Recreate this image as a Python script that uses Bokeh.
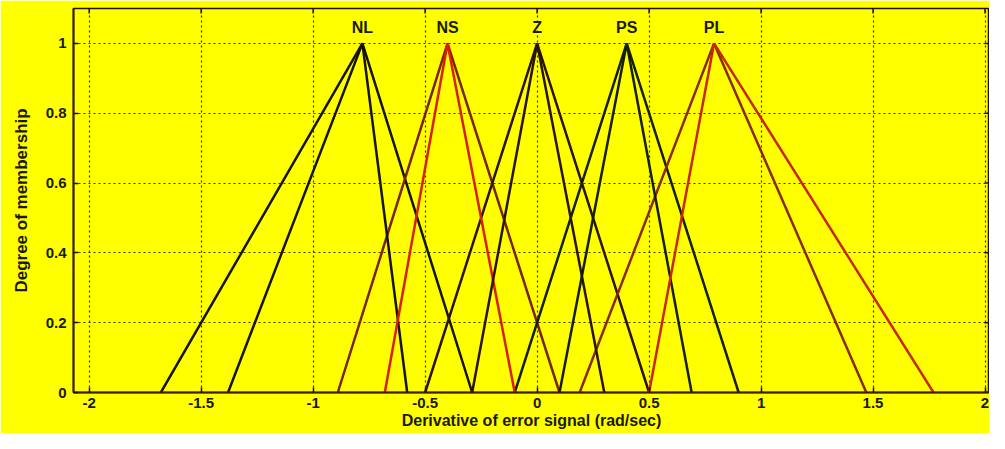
from bokeh.plotting import figure
from bokeh.models import ColumnDataSource, Range1d, FixedTicker
from bokeh.core.properties import value
from bokeh.embed import file_html
from bokeh.resources import INLINE

# ---- data ----
mf_labels = ["NL", "NS", "Z", "PS", "PL"]
peaks = [-0.78, -0.40, 0.0, 0.40, 0.79]
setA_left = [-1.68, -0.89, -0.50, -0.10, 0.19]
setA_right = [-0.29, 0.10, 0.50, 0.90, 1.47]
setB_left = [-1.38, -0.68, -0.29, 0.10, 0.50]
setB_right = [-0.58, -0.10, 0.30, 0.69, 1.77]
setA_colors = ["#141400", "#7a2400", "#2a1400", "#142000", "#8a2a00"]
setB_colors = ["#141400", "#d82000", "#2a1400", "#142000", "#c82800"]
x_ticks = [-2, -1.5, -1, -0.5, 0, 0.5, 1, 1.5, 2]
y_ticks = [0, 0.2, 0.4, 0.6, 0.8, 1]

YEL = "#ffff00"
FONT = "Liberation Sans"
TXT = "#1a1a00"
X0, X1, Y0, Y1 = -2.07, 2.02, 0.0, 1.1

p = figure(width=989, height=433, output_backend="svg", toolbar_location=None,
           x_range=Range1d(X0, X1), y_range=Range1d(Y0, Y1),
           min_border_left=73, min_border_right=0, min_border_top=8, min_border_bottom=41)
p.background_fill_color = YEL
p.border_fill_color = YEL
p.outline_line_color = "#201000"
p.outline_line_width = 1.5

xs, ys, cols = [], [], []
for l, pk, r, c in zip(setA_left, peaks, setA_right, setA_colors):
    xs.append([l, pk, r]); ys.append([0, 1, 0]); cols.append(c)
for l, pk, r, c in zip(setB_left, peaks, setB_right, setB_colors):
    xs.append([l, pk, r]); ys.append([0, 1, 0]); cols.append(c)
src = ColumnDataSource(dict(xs=xs, ys=ys, color=cols))
p.multi_line(xs="xs", ys="ys", line_color="color", line_width=2.5, source=src)

p.text(x=peaks, y=[1.045] * len(peaks), text=mf_labels, text_align="center",
       text_baseline="middle", text_font=value(FONT), text_font_style="bold",
       text_font_size="16px", text_color=TXT)

# inward tick marks on the top and right frame edges (MATLAB box style)
tick_len_y = 5 * (Y1 - Y0) / 384.0
tick_len_x = 5 * (X1 - X0) / 916.0
p.segment(x0=x_ticks, y0=[Y1] * len(x_ticks), x1=x_ticks, y1=[Y1 - tick_len_y] * len(x_ticks),
          line_color="#201000", line_width=1.5)
p.segment(x0=[X1] * len(y_ticks), y0=y_ticks, x1=[X1 - tick_len_x] * len(y_ticks), y1=y_ticks,
          line_color="#201000", line_width=1.5)

xa = p.below[0]
ya = p.left[0]
for ax in (xa, ya):
    ax.major_tick_in = 5
    ax.major_tick_out = 0
    ax.minor_tick_in = 0
    ax.minor_tick_out = 0
    ax.axis_line_color = "#3a2000"
    ax.axis_line_width = 2
    ax.major_tick_line_color = "#201000"
    ax.major_tick_line_width = 1.5
    ax.major_label_text_font = FONT
    ax.major_label_text_font_style = "bold"
    ax.major_label_text_font_size = "15px"
    ax.major_label_text_color = TXT
    ax.axis_label_text_font = FONT
    ax.axis_label_text_font_style = "bold"
    ax.axis_label_text_color = TXT

xa.ticker = FixedTicker(ticks=x_ticks)
ya.ticker = FixedTicker(ticks=y_ticks)
xa.major_label_overrides = {t: ("%g" % t) for t in x_ticks}
ya.major_label_overrides = {t: ("%g" % t) for t in y_ticks}
xa.axis_label = "Derivative of error signal (rad/sec)"
ya.axis_label = "Degree of membership"
xa.axis_label_text_font_size = "16px"
ya.axis_label_text_font_size = "17px"
xa.major_label_standoff = 5
ya.major_label_standoff = 7
xa.axis_label_standoff = 1
ya.axis_label_standoff = 12

for g in (p.xgrid[0], p.ygrid[0]):
    g.grid_line_color = "#202000"
    g.grid_line_dash = "2 3"
    g.grid_line_width = 1.2
    g.grid_line_alpha = 0.9

open("out.html", "w").write(file_html(p, INLINE))
